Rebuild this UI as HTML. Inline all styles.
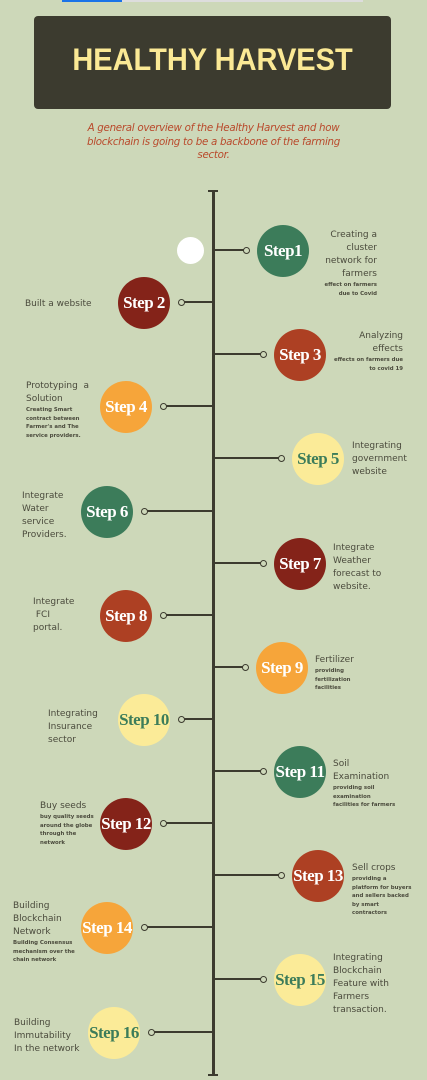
<!DOCTYPE html>
<html><head><meta charset="utf-8">
<style>
*{margin:0;padding:0;box-sizing:border-box}
body{width:427px;height:1080px;background:#cdd8b9;position:relative;overflow:hidden;font-family:"DejaVu Sans","Liberation Sans",sans-serif}
.abs{position:absolute}
.t{position:absolute;color:#4a4a3c;font-size:9px;line-height:13px}
.s{font-size:5.4px;line-height:8.6px;font-weight:bold;color:#4a4a3c;display:block}
.r{text-align:right}
.step{position:absolute;border-radius:50%;display:flex;align-items:center;justify-content:center;font-family:"Liberation Serif",serif;font-weight:bold;font-size:17px;letter-spacing:-0.5px}
.dot{position:absolute;width:7px;height:7px;border:1.6px solid #3c3b2f;border-radius:50%;background:#cdd8b9}
.ln{position:absolute;height:2px;background:#3c3b2f}
</style></head><body>
<div class="abs" style="left:62px;top:0;width:301px;height:2px;background:#ddd"></div>
<div class="abs" style="left:62px;top:0;width:60px;height:2px;background:#1a73e8"></div>
<div class="abs" style="left:34px;top:16px;width:357px;height:93px;background:#3c3b2f;border-radius:4px;display:flex;align-items:center;justify-content:center">
<span style="color:#fbe995;font-size:29px;font-weight:bold;font-family:'Liberation Sans',sans-serif;margin-top:-4px;transform:scaleY(1.1);display:inline-block">HEALTHY HARVEST</span></div>
<div class="abs" style="left:80px;top:122px;width:267px;text-align:center;color:#b94a2c;font-style:italic;font-size:10.3px;line-height:13.5px;font-family:'DejaVu Sans',sans-serif;letter-spacing:-0.3px">A general overview of the Healthy Harvest and how blockchain is going to be a backbone of the farming sector.</div>
<div class="abs" style="left:212px;top:191px;width:3px;height:884px;background:#3c3b2f"></div>
<div class="abs" style="left:208px;top:190px;width:10px;height:2px;background:#3c3b2f"></div>
<div class="abs" style="left:208px;top:1074px;width:10px;height:2px;background:#3c3b2f"></div>
<div class="abs" style="left:177px;top:237px;width:27px;height:27px;border-radius:50%;background:#fff"></div>
<div id="steps"></div>

<div class="t r" style="left:297px;top:229px;width:80px">Creating a<br>cluster<br>network for<br>farmers<span class="s">effect on farmers<br>due to Covid</span></div>
<div class="t" style="left:25px;top:298px">Built a website</div>
<div class="t r" style="left:320px;top:330px;width:83px">Analyzing<br>effects<span class="s">effects on farmers due<br>to covid 19</span></div>
<div class="t" style="left:26px;top:380px;width:74px">Prototyping &nbsp;a<br>Solution<span class="s">Creating Smart<br>contract between<br>Farmer's and The<br>service providers.</span></div>
<div class="t" style="left:352px;top:440px">Integrating<br>government<br>website</div>
<div class="t" style="left:22px;top:490px">Integrate<br>Water<br>service<br>Providers.</div>
<div class="t" style="left:333px;top:542px">Integrate<br>Weather<br>forecast to<br>website.</div>
<div class="t" style="left:33px;top:596px">Integrate<br>&nbsp;FCI<br>portal.</div>
<div class="t" style="left:315px;top:654px">Fertilizer<span class="s">providing<br>fertilization<br>facilities</span></div>
<div class="t" style="left:48px;top:708px">Integrating<br>Insurance<br>sector</div>
<div class="t" style="left:333px;top:758px">Soil<br>Examination<span class="s">providing soil<br>examination<br>facilities for farmers</span></div>
<div class="t" style="left:40px;top:800px">Buy seeds<span class="s">buy quality seeds<br>around the globe<br>through the<br>network</span></div>
<div class="t" style="left:352px;top:862px">Sell crops<span class="s">providing a<br>platform for buyers<br>and sellers backed<br>by smart<br>contractors</span></div>
<div class="t" style="left:13px;top:900px">Building<br>Blockchain<br>Network<span class="s">Building Consensus<br>mechanism over the<br>chain network</span></div>
<div class="t" style="left:333px;top:952px">Integrating<br>Blockchain<br>Feature with<br>Farmers<br>transaction.</div>
<div class="t" style="left:14px;top:1017px">Building<br>Immutability<br>In the network</div>

<script>
const labels=["Step1","Step 2","Step 3","Step 4","Step 5","Step 6","Step 7","Step 8","Step 9","Step 10","Step 11","Step 12","Step 13","Step 14","Step 15","Step 16"];
const sides=[1,-1,1,-1,1,-1,1,-1,1,-1,1,-1,1,-1,1,-1];
const offsets=[70,69,87,87,105,106,87,87,69,69,87,87,105,106,87,99];
const colors=["#3c7c5a","#842319","#ad4023","#f6a53a","#fbeb98","#3c7c5a","#842319","#ad4023","#f6a53a","#fbeb98","#3c7c5a","#842319","#ad4023","#f6a53a","#fbeb98","#fbeb98"];
const axisX=213,startY=250,gap=52.1,R=26;
const c=document.getElementById('steps');
labels.forEach((lab,i)=>{
  const y=Math.round(startY+i*gap);
  const cx=axisX+sides[i]*offsets[i];
  const dotX=cx-sides[i]*(R+11);
  const ln=document.createElement('div');ln.className='ln';
  
  
  const a=Math.min(axisX,dotX),b=Math.max(axisX,dotX);
  ln.style.left=a+'px';ln.style.width=(b-a)+'px';ln.style.top=(y-1)+'px';c.appendChild(ln);
  const d=document.createElement('div');d.className='dot';
  
  
  d.style.left=(dotX-3.5)+'px';d.style.top=(y-3.5)+'px';c.appendChild(d);
  const s=document.createElement('div');s.className='step';
  
  
  s.style.left=(cx-R)+'px';s.style.top=(y-R+1)+'px';s.style.width=2*R+'px';s.style.height=2*R+'px';
  s.style.background=colors[i];s.style.color=colors[i]=="#fbeb98"?"#3c7c5a":"#fff";
  s.textContent=lab;c.appendChild(s);
});
</script>
</body></html>
